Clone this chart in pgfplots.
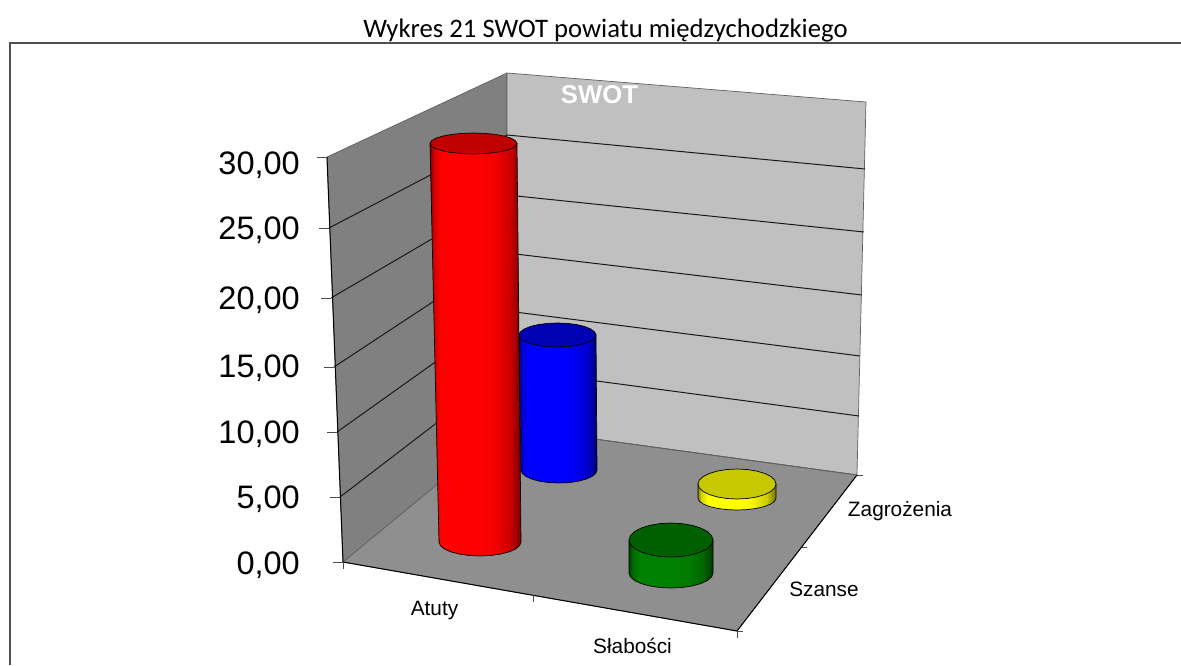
\documentclass[border=0pt]{standalone}
\usepackage{fontspec}
\setmainfont{Liberation Sans}
\newfontfamily\carlito{Carlito}
\usepackage{pgfplots}
\pgfplotsset{compat=1.18}
\definecolor{wallL}{HTML}{808080}
\definecolor{wallB}{HTML}{C0C0C0}
\definecolor{floorc}{HTML}{8F8F8F}
\definecolor{edgec}{HTML}{606060}
\definecolor{framec}{HTML}{505050}
\definecolor{redbase}{HTML}{FF0000}
\definecolor{bluebase}{HTML}{0000FF}
\definecolor{greenbase}{HTML}{008000}
\definecolor{yellowbase}{HTML}{FFFF00}
\definecolor{redcap}{HTML}{C00000}
\definecolor{bluecap}{HTML}{0000B4}
\definecolor{greencap}{HTML}{006000}
\definecolor{yellowcap}{HTML}{C8C800}
\newcommand\cylshade[2]{\pgfdeclarehorizontalshading{#1}{100bp}{%
  color(0bp)=(#2!50!black); color(25bp)=(#2!50!black); color(27bp)=(#2!82!black);
  color(31bp)=(#2); color(52bp)=(#2); color(60bp)=(#2!96!black);
  color(69bp)=(#2!80!black); color(75bp)=(#2!45!black); color(100bp)=(#2!45!black)}}
\cylshade{redc}{redbase}
\cylshade{bluec}{bluebase}
\cylshade{greenc}{greenbase}
\cylshade{yellowc}{yellowbase}
\tikzset{
  lab/.style={font=\fontsize{32.5}{36}\selectfont,anchor=east,inner sep=0pt},
  cat/.style={font=\fontsize{20.8}{24}\selectfont,inner sep=0pt},
}
\pgfplotsset{
  grid3d/.style={draw=black!90,line width=1pt,forget plot},
  tick3d/.style={draw=black!70,line width=1pt,forget plot},
  wall/.style={draw=edgec,line width=0.7pt,forget plot},
  side/.style={shade,draw=black,line width=0.7pt,line join=round,forget plot},
  cap/.style={draw=black,line width=0.7pt,line join=round,forget plot},
}
\begin{document}
\begin{tikzpicture}
\path[use as bounding box] (0,0) rectangle (1181pt,665pt);
\begin{axis}[
  at={(0,0)},anchor=south west,
  scale only axis,width=1181pt,height=665pt,
  xmin=0,xmax=1181,ymin=0,ymax=665,y dir=reverse,
  hide axis,clip=false]
% outer frame
\addplot[draw=framec,line width=1.1pt,forget plot] coordinates {(10,665)(10,43)(1181,43)};
% walls and floor
\addplot[wall,fill=wallL] coordinates {(327,157)(507,73)(507,427)(343,562)(327,157)};
\addplot[wall,fill=wallB] coordinates {(507,73)(866,102)(857,475)(507,427)(507,73)};
\addplot[wall,fill=floorc] coordinates {(343,562)(507,427)(857,475)(737,631)(343,562)};
% gridlines, left wall (5 to 25)
\addplot[grid3d] coordinates {(329,228)(507,135)};
\addplot[grid3d] coordinates {(331,298)(507,195)};
\addplot[grid3d] coordinates {(334,367)(507,253)};
\addplot[grid3d] coordinates {(337,432)(507,311)};
\addplot[grid3d] coordinates {(340,497)(507,369)};
% gridlines, back wall
\addplot[grid3d] coordinates {(507,135)(865,169)};
\addplot[grid3d] coordinates {(507,195)(864,232)};
\addplot[grid3d] coordinates {(507,253)(862,295)};
\addplot[grid3d] coordinates {(507,311)(860,356)};
\addplot[grid3d] coordinates {(507,369)(859,416)};
% axis edges
\addplot[draw=black,line width=1pt,forget plot] coordinates {(327,157)(343,562)(737,631)(857,475)};
\addplot[grid3d,draw=edgec,line width=0.8pt] coordinates {(507,427)(857,475)};
% ticks
\addplot[tick3d] coordinates {(317,157)(327,157)};
\addplot[tick3d] coordinates {(319,228)(329,228)};
\addplot[tick3d] coordinates {(321,298)(331,298)};
\addplot[tick3d] coordinates {(324,367)(334,367)};
\addplot[tick3d] coordinates {(327,432)(337,432)};
\addplot[tick3d] coordinates {(330,497)(340,497)};
\addplot[tick3d] coordinates {(333,562)(343,562)};
\addplot[tick3d] coordinates {(343,562)(343,569)};
\addplot[tick3d] coordinates {(533,595)(533,602)};
\addplot[tick3d] coordinates {(737,631)(737,638)};
\addplot[tick3d] coordinates {(737,631)(743,631)};
\addplot[tick3d] coordinates {(802,547)(807,547)};
\addplot[tick3d] coordinates {(857,475)(863,475)};
% blue: Szanse
\addplot[side,shading=bluec] coordinates {(519,335)(521,470)(522.3,473.4)(526.1,476.5)(532.1,479.2)(540,481.3)(549.2,482.6)(559,483)(568.8,482.6)(578,481.3)(585.9,479.2)(591.9,476.5)(595.7,473.4)(597,470)(596,335)(519,335)};
\addplot[cap,fill=bluecap] coordinates {(519,335)(520.3,331.9)(524.2,329)(530.3,326.5)(538.2,324.6)(547.5,323.4)(557.5,323)(567.5,323.4)(576.8,324.6)(584.7,326.5)(590.8,329)(594.7,331.9)(596,335)(594.7,338.1)(590.8,341)(584.7,343.5)(576.8,345.4)(567.5,346.6)(557.5,347)(547.5,346.6)(538.2,345.4)(530.3,343.5)(524.2,341)(520.3,338.1)(519,335)};
% red: Atuty
\addplot[side,shading=redc] coordinates {(430,143.5)(439,542)(440.4,545.6)(444.5,549)(451,551.9)(459.5,554.1)(469.4,555.5)(480,556)(490.6,555.5)(500.5,554.1)(509,551.9)(515.5,549)(519.6,545.6)(521,542)(517,143.5)(430,143.5)};
\addplot[cap,fill=redcap] coordinates {(430,143.5)(431.5,140.8)(435.8,138.2)(442.7,136.1)(451.7,134.4)(462.2,133.4)(473.5,133)(484.8,133.4)(495.3,134.4)(504.3,136.1)(511.2,138.2)(515.5,140.8)(517,143.5)(515.5,146.2)(511.2,148.8)(504.3,150.9)(495.3,152.6)(484.8,153.6)(473.5,154)(462.2,153.6)(451.7,152.6)(442.7,150.9)(435.8,148.8)(431.5,146.2)(430,143.5)};
% yellow: Zagrozenia
\addplot[side,shading=yellowc] coordinates {(698,484)(698,498)(699.3,501.1)(703.2,504)(709.4,506.5)(717.5,508.4)(726.9,509.6)(737,510)(747.1,509.6)(756.5,508.4)(764.6,506.5)(770.8,504)(774.7,501.1)(776,498)(776,484)(698,484)};
\addplot[cap,fill=yellowcap] coordinates {(698,484)(699.3,480.1)(703.2,476.5)(709.4,473.4)(717.5,471)(726.9,469.5)(737,469)(747.1,469.5)(756.5,471)(764.6,473.4)(770.8,476.5)(774.7,480.1)(776,484)(774.7,487.9)(770.8,491.5)(764.6,494.6)(756.5,497)(747.1,498.5)(737,499)(726.9,498.5)(717.5,497)(709.4,494.6)(703.2,491.5)(699.3,487.9)(698,484)};
% green: Slabosci
\addplot[side,shading=greenc] coordinates {(629,540)(629,573)(630.4,576.9)(634.6,580.5)(641.3,583.6)(650,586)(660.1,587.5)(671,588)(681.9,587.5)(692,586)(700.7,583.6)(707.4,580.5)(711.6,576.9)(713,573)(713,540)(629,540)};
\addplot[cap,fill=greencap] coordinates {(629,540)(630.4,535.6)(634.6,531.5)(641.3,528)(650,525.3)(660.1,523.6)(671,523)(681.9,523.6)(692,525.3)(700.7,528)(707.4,531.5)(711.6,535.6)(713,540)(711.6,544.4)(707.4,548.5)(700.7,552)(692,554.7)(681.9,556.4)(671,557)(660.1,556.4)(650,554.7)(641.3,552)(634.6,548.5)(630.4,544.4)(629,540)};
% texts
\node[font=\carlito\fontsize{26.7}{30}\selectfont,inner sep=0pt] at (axis cs:605.5,31) {Wykres 21 SWOT powiatu międzychodzkiego};
\node[font=\bfseries\fontsize{25.7}{30}\selectfont,text=white,inner sep=0pt] at (axis cs:599.5,95) {SWOT};
\node[lab] at (axis cs:300,165) {30,00};
\node[lab] at (axis cs:300,230) {25,00};
\node[lab] at (axis cs:300,300) {20,00};
\node[lab] at (axis cs:300,368) {15,00};
\node[lab] at (axis cs:300,434) {10,00};
\node[lab] at (axis cs:300,499) {5,00};
\node[lab] at (axis cs:300,565) {0,00};
\node[cat] at (axis cs:434.5,610) {Atuty};
\node[cat] at (axis cs:632.5,645.5) {Słabości};
\node[cat] at (axis cs:824,589) {Szanse};
\node[cat] at (axis cs:900,511) {Zagrożenia};
\end{axis}
\end{tikzpicture}
\end{document}
